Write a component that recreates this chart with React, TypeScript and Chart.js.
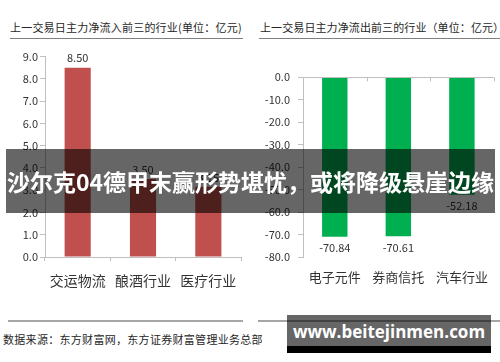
import React, { useEffect, useRef } from "react";
import { Chart, registerables } from "chart.js";

Chart.register(...registerables);

const leftTitle = "上一交易日主力净流入前三的行业(单位：亿元)";
const rightTitle = "上一交易日主力净流出前三的行业（单位：亿元）";
const leftCategories = ["交运物流", "酿酒行业", "医疗行业"];
const leftValues = [8.5, 3.5, 3.15];
const rightCategories = ["电子元件", "券商信托", "汽车行业"];
const rightValues = [-70.84, -70.61, -52.18];
const leftAxis = { min: 0, max: 9, step: 1 };
const rightAxis = { min: -80, max: 0, step: 10 };
const footerText = "数据来源：东方财富网，东方证券财富管理业务总部";
const bannerText = "沙尔克04德甲末赢形势堪忧，或将降级悬崖边缘";
const watermarkText = "www.beitejinmen.com";

const FONT = "'Noto Sans CJK SC', 'Noto Sans', sans-serif";
const AXIS_COLOR = "#bfbfbf";
const TEXT_COLOR = "#333333";

const valueLabelPlugin = {
  id: "valueLabels",
  afterDatasetsDraw(chart: any) {
    const opts = chart.options.plugins.valueLabels;
    if (!opts) return;
    const ctx = chart.ctx;
    const meta = chart.getDatasetMeta(0);
    const data = chart.data.datasets[0].data;
    ctx.save();
    ctx.font = `11px ${FONT}`;
    ctx.fillStyle = TEXT_COLOR;
    ctx.textAlign = "center";
    ctx.textBaseline = "middle";
    meta.data.forEach((bar: any, i: number) => {
      const v = data[i] as number;
      const y = opts.below ? bar.y + opts.offset : bar.y - opts.offset;
      ctx.fillText(v.toFixed(2), bar.x, y);
    });
    ctx.restore();
  },
};

const topAxisPlugin = {
  id: "topAxis",
  afterDraw(chart: any) {
    const opts = chart.options.plugins.topAxis;
    if (!opts || !opts.enabled) return;
    const ctx = chart.ctx;
    const xs = chart.scales.x;
    const ys = chart.scales.y;
    const y0 = ys.getPixelForValue(0);
    const n = chart.data.labels.length;
    const half = (xs.getPixelForValue(1) - xs.getPixelForValue(0)) / 2;
    ctx.save();
    ctx.strokeStyle = AXIS_COLOR;
    ctx.lineWidth = 1;
    ctx.beginPath();
    ctx.moveTo(chart.chartArea.left, Math.round(y0) + 0.5);
    ctx.lineTo(chart.chartArea.right, Math.round(y0) + 0.5);
    for (let i = 0; i <= n; i++) {
      const xp = Math.round(xs.getPixelForValue(0) - half + i * 2 * half) + 0.5;
      ctx.moveTo(xp, y0);
      ctx.lineTo(xp, y0 + 4);
    }
    ctx.stroke();
    ctx.restore();
  },
};

function BarChart(props: {
  labels: string[];
  values: number[];
  color: string;
  axis: { min: number; max: number; step: number };
  negative: boolean;
  yWidth: number;
  xHeight: number;
  padding: { top: number; right: number };
  yPad: number;
  xPad: number;
  xFont: number;
  labelOffset: number;
}) {
  const ref = useRef<HTMLCanvasElement | null>(null);
  useEffect(() => {
    if (!ref.current) return;
    const chart = new Chart(ref.current, {
      type: "bar",
      data: {
        labels: props.labels,
        datasets: [
          {
            data: props.values,
            backgroundColor: props.color,
            borderWidth: 0,
            barPercentage: 0.4,
            categoryPercentage: 1,
          },
        ],
      },
      options: {
        responsive: false,
        animation: false,
        layout: { padding: { top: props.padding.top, right: props.padding.right, left: 0, bottom: 0 } },
        plugins: {
          legend: { display: false },
          tooltip: { enabled: false },
          title: { display: false },
          valueLabels: { below: props.negative, offset: props.labelOffset },
          topAxis: { enabled: props.negative },
        } as any,
        scales: {
          x: {
            position: "bottom",
            offset: true,
            border: { display: !props.negative, color: AXIS_COLOR },
            grid: {
              display: !props.negative,
              offset: true,
              drawOnChartArea: false,
              drawTicks: !props.negative,
              tickLength: 4,
              color: AXIS_COLOR,
            },
            ticks: {
              color: TEXT_COLOR,
              font: { family: FONT, size: props.xFont },
              padding: props.xPad,
              maxRotation: 0,
              autoSkip: false,
            },
            afterFit(scale: any) {
              scale.height = props.xHeight;
            },
          },
          y: {
            min: props.axis.min,
            max: props.axis.max,
            border: { display: true, color: AXIS_COLOR },
            grid: {
              drawOnChartArea: false,
              drawTicks: true,
              tickLength: 5,
              color: AXIS_COLOR,
            },
            ticks: {
              stepSize: props.axis.step,
              color: TEXT_COLOR,
              font: { family: FONT, size: 11 },
              padding: props.yPad,
              callback: (v: any) => Number(v).toFixed(1),
            },
            afterFit(scale: any) {
              scale.width = props.yWidth;
            },
          },
        },
      } as any,
      plugins: [valueLabelPlugin, topAxisPlugin],
    });
    return () => chart.destroy();
  }, []);
  return <canvas ref={ref} width={250} height={260} style={{ width: 250, height: 260, display: "block" }} />;
}

export default function App() {
  const titleStyle: React.CSSProperties = {
    position: "absolute",
    top: 19,
    fontSize: 11,
    color: "#262626",
    fontFamily: FONT,
    whiteSpace: "nowrap",
    lineHeight: "16px",
  };
  return (
    <div
      style={{
        position: "absolute",
        left: 0,
        top: 0,
        width: 500,
        height: 362,
        background: "#ffffff",
        overflow: "hidden",
        fontFamily: FONT,
      }}
    >
      <div style={{ ...titleStyle, left: 10, letterSpacing: 0.2 }}>{leftTitle}</div>
      <div style={{ position: "absolute", left: 10, top: 38, width: 233, height: 1, background: "#7f7f7f" }} />
      <div style={{ ...titleStyle, left: 260, letterSpacing: 0.1 }}>{rightTitle}</div>
      <div style={{ position: "absolute", left: 259, top: 38, width: 241, height: 1, background: "#7f7f7f" }} />

      <div style={{ position: "absolute", left: 0, top: 40 }}>
        <BarChart
          labels={leftCategories}
          values={leftValues}
          color="#c0504d"
          axis={leftAxis}
          negative={false}
          yWidth={45}
          xHeight={43}
          padding={{ top: 16.5, right: 9 }}
          yPad={2}
          xPad={11}
          xFont={14}
          labelOffset={9.5}
        />
      </div>
      <div style={{ position: "absolute", left: 250, top: 40 }}>
        <BarChart
          labels={rightCategories}
          values={rightValues}
          color="#00b050"
          axis={rightAxis}
          negative={true}
          yWidth={53}
          xHeight={42.7}
          padding={{ top: 37.3, right: 3 }}
          yPad={8}
          xPad={11.6}
          xFont={13}
          labelOffset={11.6}
        />
      </div>

      <div style={{ position: "absolute", left: 8, top: 320, width: 235, height: 2, background: "#a6a6a6" }} />
      <div style={{ position: "absolute", left: 258, top: 320, width: 242, height: 2, background: "#a6a6a6" }} />
      <div
        style={{
          position: "absolute",
          left: 3,
          top: 331,
          fontSize: 11,
          lineHeight: "16px",
          color: "#262626",
          whiteSpace: "nowrap",
          letterSpacing: 0.3,
        }}
      >
        {footerText}
      </div>

      <div
        style={{
          position: "absolute",
          left: 6,
          top: 149,
          width: 489,
          height: 64,
          background: "rgba(0,0,0,0.6)",
          color: "#ffffff",
          fontWeight: 700,
          fontSize: 23,
          lineHeight: "64px",
          textAlign: "center",
          whiteSpace: "nowrap",
        }}
      >
        {bannerText}
      </div>

      <div style={{ position: "absolute", left: 287, top: 315, width: 204, height: 31, background: "rgba(0,0,0,0.6)" }} />
      <div style={{ position: "absolute", left: 287, top: 346, width: 204, height: 7, background: "#000000" }} />
      <div
        style={{
          position: "absolute",
          left: 287,
          top: 315,
          width: 204,
          height: 31,
          lineHeight: "33px",
          textAlign: "center",
          color: "#ffffff",
          fontWeight: 700,
          fontSize: 17,
          fontFamily: "'Open Sans', sans-serif",
          whiteSpace: "nowrap",
        }}
      >
        {watermarkText}
      </div>
    </div>
  );
}
